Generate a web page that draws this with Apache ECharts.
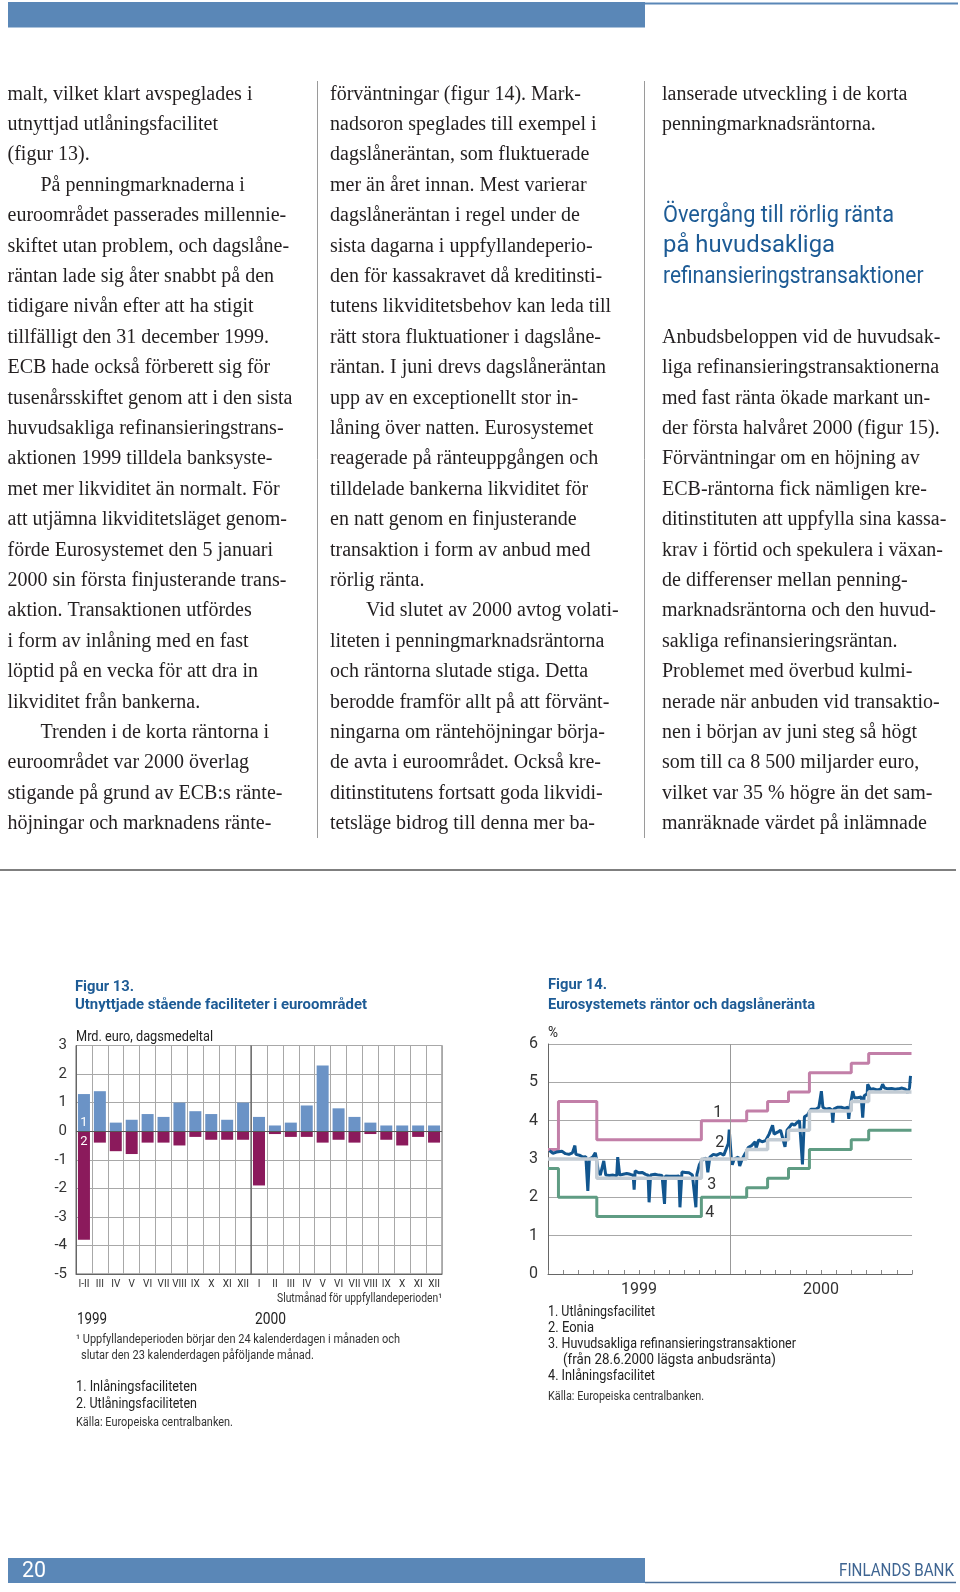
<!DOCTYPE html>
<html><head><meta charset="utf-8">
<script src="https://cdn.jsdelivr.net/npm/echarts@6/dist/echarts.min.js"></script>
<style>html,body{margin:0;padding:0;background:#fff}#c{width:960px;height:1592px}</style>
</head><body><div id="c"></div>
<script>
// ---------- Figure 13 data ----------
const fig13Categories = ['I-II','III','IV','V','VI','VII','VIII','IX','X','XI','XII','I','II','III','IV','V','VI','VII','VIII','IX','X','XI','XII'];
const fig13Inlaning = [1.3,1.4,0.3,0.4,0.6,0.5,1.0,0.7,0.6,0.4,1.0,0.5,0.2,0.3,0.9,2.3,0.8,0.5,0.3,0.2,0.2,0.2,0.2];
const fig13Utlaning = [-3.8,-0.4,-0.7,-0.8,-0.4,-0.4,-0.5,-0.2,-0.3,-0.3,-0.3,-1.9,-0.1,-0.2,-0.2,-0.4,-0.3,-0.4,-0.1,-0.3,-0.5,-0.2,-0.4];
const fig13YearSplitIndex = 11;
const fig13Years = ['1999','2000'];

// ---------- Figure 14 data ----------
const fig14Months = ['jan','feb','mar','apr','maj','jun','jul','aug','sep','okt','nov','dec','jan','feb','mar','apr','maj','jun','jul','aug','sep','okt','nov','dec'];
const fig14Years = ['1999','2000'];
const rateDates = ['1999-01-01','1999-01-22','1999-04-09','1999-11-05','2000-02-04','2000-03-17','2000-04-28','2000-06-09','2000-09-01','2000-10-06','2000-12-31'];
const utlaningRate = [3.25,4.5,3.5,4.0,4.25,4.5,4.75,5.25,5.5,5.75,5.75];
const mroRate      = [3.0,3.0,2.5,3.0,3.25,3.5,3.75,4.25,4.5,4.75,4.75];
const inlaningRate = [2.75,2.0,1.5,2.0,2.25,2.5,2.75,3.25,3.5,3.75,3.75];
const eoniaDates = ['1999-01-04','1999-01-11','1999-01-18','1999-01-22','1999-01-29','1999-02-05','1999-02-12','1999-02-19','1999-02-24','1999-02-26',
'1999-03-05','1999-03-12','1999-03-18','1999-03-22','1999-03-25','1999-04-01','1999-04-06','1999-04-08','1999-04-12','1999-04-16',
'1999-04-23','1999-04-27','1999-05-04','1999-05-12','1999-05-19','1999-05-21','1999-05-25','1999-06-01','1999-06-08','1999-06-15',
'1999-06-21','1999-06-23','1999-06-25','1999-07-02','1999-07-09','1999-07-16','1999-07-21','1999-07-23','1999-07-26','1999-08-04',
'1999-08-11','1999-08-18','1999-08-23','1999-08-25','1999-09-01','1999-09-08','1999-09-16','1999-09-21','1999-09-23','1999-09-27',
'1999-10-04','1999-10-11','1999-10-18','1999-10-21','1999-10-25','1999-10-27','1999-11-01','1999-11-05','1999-11-10','1999-11-15',
'1999-11-18','1999-11-22','1999-11-29','1999-12-06','1999-12-13','1999-12-20','1999-12-23','1999-12-29','1999-12-31','2000-01-04',
'2000-01-06','2000-01-10','2000-01-14','2000-01-18','2000-01-21','2000-01-26','2000-01-31','2000-02-03','2000-02-07','2000-02-14',
'2000-02-21','2000-02-23','2000-02-28','2000-03-06','2000-03-13','2000-03-20','2000-03-27','2000-03-30','2000-04-06','2000-04-12',
'2000-04-21','2000-04-25','2000-05-01','2000-05-05','2000-05-10','2000-05-15','2000-05-20','2000-05-24','2000-05-26','2000-05-30',
'2000-06-05','2000-06-12','2000-06-16','2000-06-22','2000-06-28','2000-07-03','2000-07-06','2000-07-12','2000-07-19','2000-07-24',
'2000-07-26','2000-07-28','2000-08-04','2000-08-12','2000-08-19','2000-08-25','2000-08-27','2000-08-30','2000-09-04','2000-09-07',
'2000-09-14','2000-09-21','2000-09-24','2000-09-27','2000-10-03','2000-10-04','2000-10-09','2000-10-16','2000-10-23','2000-10-30',
'2000-11-03','2000-11-07','2000-11-14','2000-11-21','2000-11-28','2000-12-05','2000-12-12','2000-12-19','2000-12-23','2000-12-27','2000-12-29'];
const eoniaValues = [3.22,3.15,3.18,3.14,3.20,3.14,3.12,3.16,3.35,3.12,
3.10,3.05,3.06,2.17,3.00,3.05,3.16,3.02,2.68,2.58,
2.95,2.58,2.57,2.58,2.56,3.05,2.58,2.60,2.62,2.60,
2.58,2.20,2.69,2.64,2.65,2.60,2.58,1.87,2.58,2.60,
2.58,2.57,1.83,2.56,2.55,2.55,2.55,2.56,1.74,2.66,
2.65,2.64,2.58,2.60,1.74,2.60,2.85,2.95,3.00,3.02,
2.65,3.05,3.12,3.10,3.15,3.10,3.05,3.40,3.77,3.05,
2.85,3.00,2.95,3.05,2.82,3.00,3.12,3.18,3.30,3.35,
3.45,3.28,3.50,3.45,3.48,3.65,3.88,3.65,3.70,3.75,
3.32,3.75,3.85,3.92,3.88,3.95,4.00,3.95,2.86,4.10,
4.15,4.30,4.35,4.30,4.35,4.77,4.35,4.30,4.32,4.28,
3.95,4.30,4.35,4.35,4.32,4.35,4.05,4.40,4.77,4.60,
4.60,4.62,4.08,4.65,4.70,4.95,4.82,4.83,4.80,4.82,
4.95,4.85,4.83,4.84,4.82,4.83,4.85,4.82,4.73,4.86,5.17];

// ---------- Body text ----------
const col1Lines = ['malt, vilket klart avspeglades i','utnyttjad utlåningsfacilitet','(figur 13).','\tPå penningmarknaderna i',
'euroområdet passerades millennie-','skiftet utan problem, och dagslåne-','räntan lade sig åter snabbt på den','tidigare nivån efter att ha stigit',
'tillfälligt den 31 december 1999.','ECB hade också förberett sig för','tusenårsskiftet genom att i den sista','huvudsakliga refinansieringstrans-',
'aktionen 1999 tilldela banksyste-','met mer likviditet än normalt. För','att utjämna likviditetsläget genom-','förde Eurosystemet den 5 januari',
'2000 sin första finjusterande trans-','aktion. Transaktionen utfördes','i form av inlåning med en fast','löptid på en vecka för att dra in',
'likviditet från bankerna.','\tTrenden i de korta räntorna i','euroområdet var 2000 överlag','stigande på grund av ECB:s ränte-','höjningar och marknadens ränte-'];
const col2Lines = ['förväntningar (figur 14). Mark-','nadsoron speglades till exempel i','dagslåneräntan, som fluktuerade','mer än året innan. Mest varierar',
'dagslåneräntan i regel under de','sista dagarna i uppfyllandeperio-','den för kassakravet då kreditinsti-','tutens likviditetsbehov kan leda till',
'rätt stora fluktuationer i dagslåne-','räntan. I juni drevs dagslåneräntan','upp av en exceptionellt stor in-','låning över natten. Eurosystemet',
'reagerade på ränteuppgången och','tilldelade bankerna likviditet för','en natt genom en finjusterande','transaktion i form av anbud med',
'rörlig ränta.','\tVid slutet av 2000 avtog volati-','liteten i penningmarknadsräntorna','och räntorna slutade stiga. Detta',
'berodde framför allt på att förvänt-','ningarna om räntehöjningar börja-','de avta i euroområdet. Också kre-','ditinstitutens fortsatt goda likvidi-','tetsläge bidrog till denna mer ba-'];
const col3TopLines = ['lanserade utveckling i de korta','penningmarknadsräntorna.'];
const col3Heading = ['Övergång till rörlig ränta','på huvudsakliga','refinansieringstransaktioner'];
const col3Lines = ['Anbudsbeloppen vid de huvudsak-','liga refinansieringstransaktionerna','med fast ränta ökade markant un-','der första halvåret 2000 (figur 15).',
'Förväntningar om en höjning av','ECB-räntorna fick nämligen kre-','ditinstituten att uppfylla sina kassa-','krav i förtid och spekulera i växan-',
'de differenser mellan penning-','marknadsräntorna och den huvud-','sakliga refinansieringsräntan.','Problemet med överbud kulmi-',
'nerade när anbuden vid transaktio-','nen i början av juni steg så högt','som till ca 8 500 miljarder euro,','vilket var 35 % högre än det sam-','manräknade värdet på inlämnade'];

// ---------- helpers ----------
const mctx = document.createElement('canvas').getContext('2d');
function textWidth(str, font){ mctx.font = font; return mctx.measureText(str).width; }
function fitText(x, y, str, size, family, weight, targetW, fill, align){
  const font = weight + ' ' + size + 'px ' + family;
  const s = targetW / textWidth(str, font);
  return {type:'text', x:x, y:y, scaleX:s, silent:true,
    style:{text:str, font:font, fill:fill, textAlign:align||'left', textVerticalAlign:'middle'}};
}
function plainText(x, y, str, font, fill, align){
  return {type:'text', x:x, y:y, silent:true, style:{text:str, font:font, fill:fill, textAlign:align||'left', textVerticalAlign:'middle'}};
}

const SERIF = '"Liberation Serif", "Times New Roman", serif';
const SANS = 'Roboto, "Noto Sans", sans-serif';
const bodySize = Math.max(16, Math.min(20, 100 * 299 / textWidth('tusenårsskiftet genom att i den sista', '100px ' + SERIF)));
const bodyFont = bodySize.toFixed(2) + 'px ' + SERIF;
const BODY = '#231f20', BLUE = '#1d5b95';
const LINE0 = 94.4, LSTEP = 30.4;

const g = [];
// header & footer bars
g.push({type:'rect', shape:{x:8, y:2, width:637, height:25.5}, style:{fill:'#5a87b7'}, silent:true});
g.push({type:'line', shape:{x1:645, y1:3.5, x2:958, y2:3.5}, style:{stroke:'#5a87b7', lineWidth:2}, silent:true});
g.push({type:'rect', shape:{x:8, y:1558, width:637, height:25}, style:{fill:'#5a87b7'}, silent:true});
g.push({type:'line', shape:{x1:645, y1:1582.5, x2:956, y2:1582.5}, style:{stroke:'#4a6f9a', lineWidth:1.5}, silent:true});
g.push(fitText(22, 1571, '20', 22, SANS, 'normal', 24, '#ffffff'));
g.push(fitText(954, 1571, 'FINLANDS BANK', 18, SANS, 'normal', 115, '#3f6592', 'right'));
// column rules
g.push({type:'line', shape:{x1:317.5, y1:81, x2:317.5, y2:838}, style:{stroke:'#9a9a9a', lineWidth:1}, silent:true});
g.push({type:'line', shape:{x1:644.5, y1:81, x2:644.5, y2:838}, style:{stroke:'#9a9a9a', lineWidth:1}, silent:true});
g.push({type:'line', shape:{x1:0, y1:870, x2:956, y2:870}, style:{stroke:'#555', lineWidth:1.5}, silent:true});

function addColumn(lines, x0, indent, startIdx){
  lines.forEach(function(l, i){
    const ind = l.charAt(0) === '\t';
    g.push(plainText(x0 + (ind ? indent : 0), LINE0 + (startIdx + i) * LSTEP, ind ? l.slice(1) : l, bodyFont, BODY));
  });
}
addColumn(col1Lines, 7.5, 33, 0);
addColumn(col2Lines, 330, 36, 0);
addColumn(col3TopLines, 662, 34, 0);
addColumn(col3Lines, 662, 34, 8);
const headW = [231, 172, 260.5];
col3Heading.forEach(function(l, i){
  g.push(fitText(663, 216 + i * 30.5, l, 23, SANS, 'normal', headW[i], BLUE));
});

// figure titles & notes
g.push(fitText(75, 987, 'Figur 13.', 15, SANS, 'bold', 59, BLUE));
g.push(fitText(75, 1005, 'Utnyttjade stående faciliteter i euroområdet', 15, SANS, 'bold', 292, BLUE));
g.push(fitText(76, 1037, 'Mrd. euro, dagsmedeltal', 14, SANS, 'normal', 137, '#222'));
g.push(fitText(442, 1299, 'Slutmånad för uppfyllandeperioden¹', 12, SANS, 'normal', 165, '#333', 'right'));
g.push(fitText(77, 1320, fig13Years[0], 16, SANS, 'normal', 30, '#222'));
g.push(fitText(255, 1320, fig13Years[1], 16, SANS, 'normal', 31, '#222'));
g.push(fitText(76, 1340, '¹ Uppfyllandeperioden börjar den 24 kalenderdagen i månaden och', 12, SANS, 'normal', 324, '#333'));
g.push(fitText(81, 1356, 'slutar den 23 kalenderdagen påföljande månad.', 12, SANS, 'normal', 233, '#333'));
g.push(fitText(76, 1387, '1. Inlåningsfaciliteten', 15, SANS, 'normal', 121, '#222'));
g.push(fitText(76, 1404, '2. Utlåningsfaciliteten', 15, SANS, 'normal', 121, '#222'));
g.push(fitText(76, 1423, 'Källa: Europeiska centralbanken.', 12, SANS, 'normal', 157, '#333'));

g.push(fitText(548, 985, 'Figur 14.', 15, SANS, 'bold', 59, BLUE));
g.push(fitText(548, 1005, 'Eurosystemets räntor och dagslåneränta', 15, SANS, 'bold', 267, BLUE));
g.push(fitText(548, 1033, '%', 14, SANS, 'normal', 10, '#222'));
g.push(fitText(548, 1312, '1. Utlåningsfacilitet', 14, SANS, 'normal', 107, '#222'));
g.push(fitText(548, 1328, '2. Eonia', 14, SANS, 'normal', 46, '#222'));
g.push(fitText(548, 1344, '3. Huvudsakliga refinansieringstransaktioner', 14, SANS, 'normal', 248, '#222'));
g.push(fitText(563, 1360, '(från 28.6.2000 lägsta anbudsränta)', 14, SANS, 'normal', 213, '#222'));
g.push(fitText(548, 1376, '4. Inlåningsfacilitet', 14, SANS, 'normal', 107, '#222'));
g.push(fitText(548, 1397, 'Källa: Europeiska centralbanken.', 12, SANS, 'normal', 156, '#333'));

function zipDates(d, v){ return d.map(function(x, i){ return [x, v[i]]; }); }
function labelPoint(coord, txt){
  return {coord:coord, value:txt, symbol:'circle', symbolSize:0,
    label:{show:true, formatter:txt, color:'#333', fontSize:16, fontFamily:SANS, position:'inside'}};
}

const chart = echarts.init(document.getElementById('c'), null, {renderer:'canvas'});
const option = {
  animation:false,
  backgroundColor:'#ffffff',
  textStyle:{fontFamily:SANS},
  grid:[
    {left:76, top:1045.5, width:366, height:228.5, show:true, borderColor:'#666', borderWidth:1, backgroundColor:'rgba(0,0,0,0)'},
    {left:548, top:1044, width:364, height:230}
  ],
  xAxis:[
    {gridIndex:0, type:'category', data:fig13Categories, boundaryGap:true,
     axisLine:{show:true, onZero:false, lineStyle:{color:'#666'}}, axisTick:{show:false},
     axisLabel:{interval:0, fontSize:10, color:'#333', margin:5, hideOverlap:false},
     splitLine:{show:true, interval:0, lineStyle:{color:'#a8a8a8', width:1}}},
    {gridIndex:0, type:'value', min:0, max:fig13Categories.length, show:false},
    {gridIndex:1, type:'time', min:'1999-01-01', max:'2001-01-01',
     axisLine:{show:true, onZero:false, lineStyle:{color:'#666'}}, axisTick:{show:false}, axisLabel:{show:false}, splitLine:{show:false}},
    {gridIndex:1, type:'category', data:fig14Months, position:'bottom', offset:0, boundaryGap:true,
     axisLine:{show:false}, axisTick:{show:true, inside:true, length:4, interval:0, lineStyle:{color:'#888'}},
     axisLabel:{show:false}, splitLine:{show:false}},
    {gridIndex:1, type:'category', data:fig14Years, position:'bottom', offset:0, boundaryGap:true,
     axisLine:{show:false}, axisTick:{show:false}, axisLabel:{fontSize:16, color:'#333', margin:8}, splitLine:{show:false}}
  ],
  yAxis:[
    {gridIndex:0, type:'value', min:-5, max:3, interval:1,
     axisLine:{show:true, lineStyle:{color:'#666'}}, axisTick:{show:false},
     axisLabel:{fontSize:15, color:'#333', margin:9}, splitLine:{show:true, lineStyle:{color:'#a8a8a8'}}},
    {gridIndex:1, type:'value', min:0, max:6, interval:1,
     axisLine:{show:true, lineStyle:{color:'#666'}}, axisTick:{show:false},
     axisLabel:{fontSize:16, color:'#333', margin:10}, splitLine:{show:true, lineStyle:{color:'#a8a8a8'}}}
  ],
  series:[
    {type:'bar', name:'Inlåningsfaciliteten', xAxisIndex:0, yAxisIndex:0, barWidth:12, barGap:'-100%',
     itemStyle:{color:'#6b93c6'},
     data:fig13Inlaning.map(function(v, i){ return i === 0 ? {value:v, label:{show:true, position:'insideBottom', formatter:'1', color:'#fff', fontSize:13, distance:2}} : v; }),
     markLine:{silent:true, symbol:'none', label:{show:false}, lineStyle:{color:'#555', width:1.2, type:'solid'}, data:[{yAxis:0}]}},
    {type:'bar', name:'Utlåningsfaciliteten', xAxisIndex:0, yAxisIndex:0, barWidth:12, barGap:'-100%',
     itemStyle:{color:'#8b1a5c'},
     data:fig13Utlaning.map(function(v, i){ return i === 0 ? {value:v, label:{show:true, position:'insideTop', formatter:'2', color:'#fff', fontSize:13, distance:4}} : v; })},
    {type:'line', xAxisIndex:1, yAxisIndex:0, symbol:'none', silent:true, lineStyle:{color:'#555', width:1.2},
     data:[[fig13YearSplitIndex, -5], [fig13YearSplitIndex, 3]]},
    {type:'line', name:'Inlåningsfacilitet', xAxisIndex:2, yAxisIndex:1, step:'end', symbol:'none',
     lineStyle:{color:'#5f9c83', width:3}, data:zipDates(rateDates, inlaningRate),
     markPoint:{data:[labelPoint(['1999-11-22', 1.59], '4')]}},
    {type:'line', name:'Utlåningsfacilitet', xAxisIndex:2, yAxisIndex:1, step:'end', symbol:'none',
     lineStyle:{color:'#c27fa8', width:3}, data:zipDates(rateDates, utlaningRate),
     markPoint:{data:[labelPoint(['1999-12-08', 4.2], '1')]}},
    {type:'line', name:'Eonia', xAxisIndex:2, yAxisIndex:1, symbol:'none',
     lineStyle:{color:'#12568f', width:3}, data:zipDates(eoniaDates, eoniaValues), z:3,
     markLine:{silent:true, symbol:'none', label:{show:false}, lineStyle:{color:'#999', width:1, type:'solid'}, data:[{xAxis:'2000-01-01'}]},
     markPoint:{data:[labelPoint(['1999-12-12', 3.42], '2')]}},
    {type:'line', name:'Huvudsakliga refinansieringstransaktioner', xAxisIndex:2, yAxisIndex:1, step:'end', symbol:'none',
     lineStyle:{color:'#c3ccd4', width:3.5}, data:zipDates(rateDates, mroRate), z:4,
     markPoint:{data:[labelPoint(['1999-11-26', 2.32], '3')]}}
  ],
  graphic:{elements:g}
};
chart.setOption(option);
</script></body></html>
